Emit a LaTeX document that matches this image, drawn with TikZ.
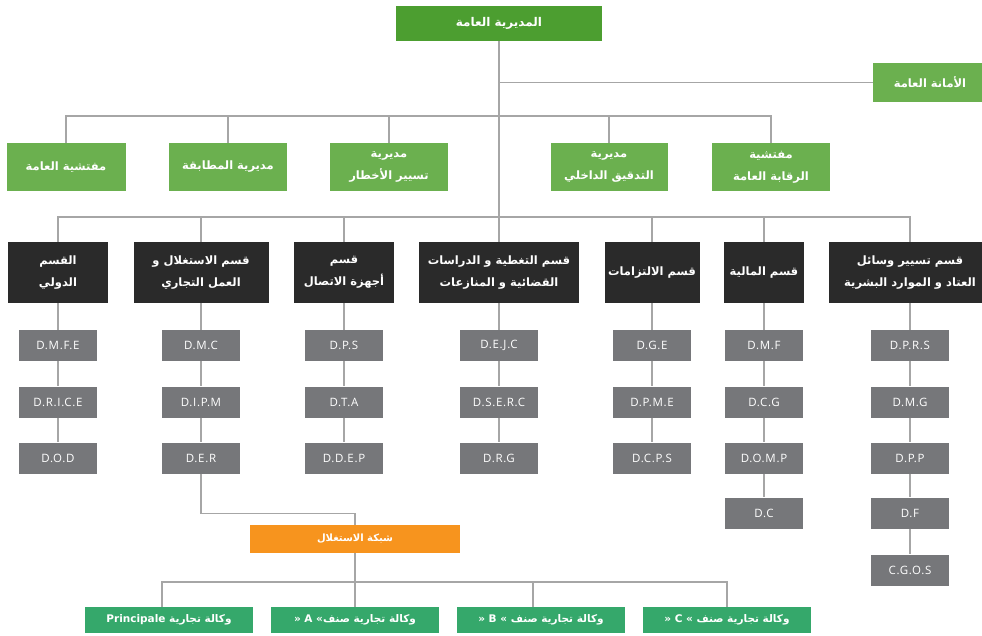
\documentclass[tikz,border=0pt]{standalone}
\usepackage{fontspec}
\setmainfont{Open Sans}
\newfontfamily\arfont[Script=Arabic]{DejaVu Sans Bold}
\newfontfamily\codefont[LetterSpace=6]{Open Sans}
\TeXXeTstate=1
\newcommand\AR[1]{{\arfont\beginR #1\endR}}
\definecolor{topgreen}{HTML}{4C9E30}
\definecolor{lightgreen}{HTML}{6BB04F}
\definecolor{darkbox}{HTML}{2A2A2A}
\definecolor{greybox}{HTML}{76777A}
\definecolor{orangebox}{HTML}{F7941E}
\definecolor{teal}{HTML}{35A86B}
\definecolor{linegrey}{HTML}{A6A6A6}
\tikzset{
  box/.style={rectangle, inner sep=0pt, text=white, align=center},
  topbox/.style={box, fill=topgreen, minimum width=206pt, minimum height=35pt, font=\fontsize{12}{20}\selectfont},
  gbox/.style={box, fill=lightgreen, minimum height=48pt, font=\fontsize{11.5}{22}\selectfont},
  dbox/.style={box, fill=darkbox, minimum height=61pt, font=\fontsize{11.5}{22}\selectfont},
  sbox/.style={box, fill=greybox, minimum width=78pt, minimum height=31pt, font=\codefont\fontsize{11.5}{13}\selectfont},
  obox/.style={box, fill=orangebox, minimum width=210pt, minimum height=28pt, font=\fontsize{10}{12}\selectfont},
  abox/.style={box, fill=teal, minimum width=168pt, minimum height=26pt, font=\fontsize{10.5}{12}\selectfont\bfseries},
  conn/.style={draw=linegrey, line width=1.1pt}
}
\begin{document}
\begin{tikzpicture}[x=1pt,y=-1pt]
\useasboundingbox[fill=white] (0,0) rectangle (982,636);
% top
\node[topbox] (top) at (499,23.5) {\AR{المديرية العامة}};
\node[gbox, minimum width=114pt, minimum height=39pt] (amana) at (930,82.5) {\AR{الأمانة العامة}};
% row 2
\node[gbox, minimum width=119pt] (g1) at (66,167) {\AR{مفتشية العامة}};
\node[gbox, minimum width=118pt] (g2) at (228,167) {\AR{مديرية المطابقة}};
\node[gbox, minimum width=118pt] (g3) at (389,167) {\AR{مديرية}\\\AR{تسيير الأخطار}};
\node[gbox, minimum width=117pt] (g4) at (609,167) {\AR{مديرية}\\\AR{التدقيق الداخلي}};
\node[gbox, minimum width=118pt] (g5) at (771,167) {\AR{مفتشية}\\\AR{الرقابة العامة}};
% row 3
\node[dbox, minimum width=100pt] (d1) at (58,272.5) {\AR{القسم}\\\AR{الدولي}};
\node[dbox, minimum width=135pt] (d2) at (201,272.5) {\AR{قسم الاستغلال و}\\\AR{العمل التجاري}};
\node[dbox, minimum width=100pt] (d3) at (344,272.5) {\AR{قسم}\\\AR{أجهزة الاتصال}};
\node[dbox, minimum width=160pt] (d4) at (499,272.5) {\AR{قسم التغطية و الدراسات}\\\AR{القضائية و المنازعات}};
\node[dbox, minimum width=95pt] (d5) at (652,272.5) {\AR{قسم الالتزامات}};
\node[dbox, minimum width=80pt] (d6) at (764,272.5) {\AR{قسم المالية}};
\node[dbox, minimum width=162pt] (d7) at (910,272.5) {\AR{قسم تسيير وسائل}\\\AR{العتاد و الموارد البشرية}};
% grey boxes
\node[sbox] (e11) at (58,345.5) {D.M.F.E};
\node[sbox] (e12) at (58,402) {D.R.I.C.E};
\node[sbox] (e13) at (58,458) {D.O.D};
\node[sbox] (e21) at (201,345.5) {D.M.C};
\node[sbox] (e22) at (201,402) {D.I.P.M};
\node[sbox] (e23) at (201,458) {D.E.R};
\node[sbox] (e31) at (344,345.5) {D.P.S};
\node[sbox] (e32) at (344,402) {D.T.A};
\node[sbox] (e33) at (344,458) {D.D.E.P};
\node[sbox] (e41) at (499,345.5) {D.E.J.C};
\node[sbox] (e42) at (499,402) {D.S.E.R.C};
\node[sbox] (e43) at (499,458) {D.R.G};
\node[sbox] (e51) at (652,345.5) {D.G.E};
\node[sbox] (e52) at (652,402) {D.P.M.E};
\node[sbox] (e53) at (652,458) {D.C.P.S};
\node[sbox] (e61) at (764,345.5) {D.M.F};
\node[sbox] (e62) at (764,402) {D.C.G};
\node[sbox] (e63) at (764,458) {D.O.M.P};
\node[sbox] (e64) at (764,513) {D.C};
\node[sbox] (e71) at (910,345.5) {D.P.R.S};
\node[sbox] (e72) at (910,402) {D.M.G};
\node[sbox] (e73) at (910,458) {D.P.P};
\node[sbox] (e74) at (910,513) {D.F};
\node[sbox] (e75) at (910,570) {C.G.O.S};
% network
\node[obox] (net) at (355,539) {\AR{شبكة الاستغلال}};
\node[abox] (a1) at (169,620) {\AR{وكالة تجارية \beginL Principale\endL}};
\node[abox] (a2) at (355,620) {\AR{وكالة تجارية صنف\beginL« A »\endL}};
\node[abox] (a3) at (541,620) {\AR{وكالة تجارية صنف \beginL« B »\endL}};
\node[abox] (a4) at (727,620) {\AR{وكالة تجارية صنف \beginL« C »\endL}};
% connectors
\coordinate (b2) at (499,116);
\coordinate (b3) at (499,217);
\draw[conn] (top.south) -- (d4.north);
\draw[conn] (amana.west) -- (amana.west -| top.south);
\draw[conn] (g1.north) -- (g1.north |- b2) -| (g5.north);
\foreach \n in {g2,g3,g4} \draw[conn] (\n.north) -- (\n.north |- b2);
\draw[conn] (d1.north) -- (d1.north |- b3) -| (d7.north);
\foreach \n in {d2,d3,d5,d6} \draw[conn] (\n.north) -- (\n.north |- b3);
\foreach \a/\b in {d1/e11,e11/e12,e12/e13,d2/e21,e21/e22,e22/e23,d3/e31,e31/e32,e32/e33,d4/e41,e41/e42,e42/e43,d5/e51,e51/e52,e52/e53,d6/e61,e61/e62,e62/e63,e63/e64,d7/e71,e71/e72,e72/e73,e73/e74,e74/e75}
  \draw[conn] (\a.south) -- (\b.north);
\draw[conn] (e23.south) -- ++(0,40) -| (net.north);
\coordinate (bb) at (355,582);
\draw[conn] (net.south) -- (a2.north);
\draw[conn] ([xshift=-7pt]a1.north) -- ([xshift=-7pt]a1.north |- bb) -| (a4.north);
\draw[conn] ([xshift=-8pt]a3.north) -- ([xshift=-8pt]a3.north |- bb);
\end{tikzpicture}
\end{document}
